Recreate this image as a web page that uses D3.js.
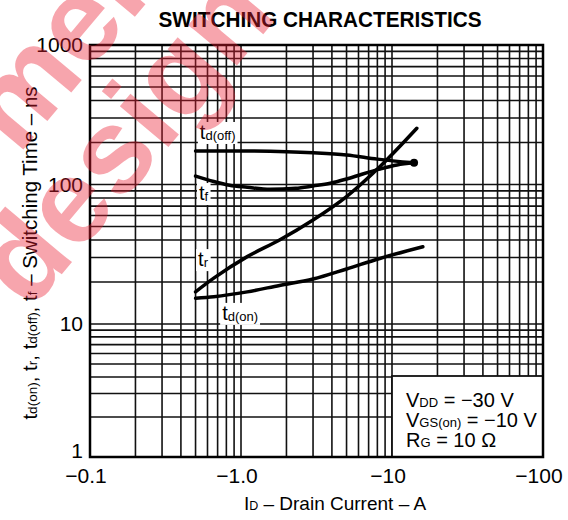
<!DOCTYPE html>
<html><head><meta charset="utf-8">
<script src="https://cdn.jsdelivr.net/npm/d3@7"></script>
<style>
body{margin:0;background:#fff}
svg{display:block}
text{font-family:"Liberation Sans",Arial,Helvetica,sans-serif;fill:#000}
</style>
</head><body>
<svg id="chart" width="568" height="520"></svg>
<script>
// ---- data ----
const currentTickValues = [-0.1, -1, -10, -100];
const currentTickLabels = ["\u22120.1", "\u22121.0", "\u221210", "\u2212100"];
const timeTickValues = [1, 10, 100, 1000];
const timeTickLabels = ["1", "10", "100", "1000"];

const tdoffCurrent = [-0.5, -1, -2, -3, -5, -8, -14];
const tdoffTime    = [174, 174, 172, 169, 163, 152, 143];

const tfCurrent = [-0.5, -0.66, -0.84, -1.1, -1.56, -2.3, -3, -3.9, -5, -6.4, -8.3, -10.8, -14];
const tfTime    = [115, 105, 98.7, 95.5, 92.4, 93.9, 97.6, 102, 109.5, 119, 129, 138, 143];

const trCurrent = [-0.5, -0.66, -1.1, -1.8, -3, -5, -8.3, -14.6];
const trTime    = [17, 21.3, 30.4, 40, 55.7, 82, 134, 253];

const tdonCurrent = [-0.5, -0.66, -1.1, -1.8, -3, -5, -8.3, -16];
const tdonTime    = [15.3, 15.7, 17, 18.9, 21, 24.8, 29.5, 35.8];

const endDotCurrent = [-14];
const endDotTime = [143];

const curveLabelMain = ["t", "t", "t", "t"];
const curveLabelSub  = ["d(off)", "f", "r", "d(on)"];
const curveLabelCurrent = [-0.534, -0.527, -0.52, -0.75];
const curveLabelTime    = [212, 77.4, 26, 10.7];

const conditionMain = ["V", "V", "R"];
const conditionSub  = ["DD", "GS(on)", "G"];
const conditionRest = [" = \u221230 V", " = \u221210 V", " = 10 \u03A9"];

// ---- scales ----
const svg = d3.select("#chart");
const x = d3.scaleLog().domain([-0.1, -100]).range([90, 543]);
const y = d3.scaleLog().domain([1, 10, 1000]).range([457, 324, 45]);
const X0 = x(-0.1), X1 = x(-100), Y0 = y(1), Y1 = y(1000);

// ---- grid ----
const grid = svg.append("g").attr("stroke", "#111").attr("stroke-width", 1.6);
grid.selectAll("line.v").data(x.ticks()).join("line")
  .attr("x1", d => x(d)).attr("x2", d => x(d)).attr("y1", Y1).attr("y2", Y0);
grid.selectAll("line.h").data(y.ticks()).join("line")
  .attr("y1", d => y(d)).attr("y2", d => y(d)).attr("x1", X0).attr("x2", X1);

// ---- condition box ----
const boxTop = 376;
svg.append("rect").attr("x", x(-10)).attr("y", boxTop)
  .attr("width", X1 - x(-10)).attr("height", Y0 - boxTop)
  .attr("fill", "#fff").attr("stroke", "#111").attr("stroke-width", 1.8);
const cond = svg.append("g");
conditionMain.forEach((m, i) => {
  const t = cond.append("text").attr("x", x(-10) + 14).attr("y", 407 + i * 20)
    .attr("font-size", 20);
  t.append("tspan").text(m);
  t.append("tspan").attr("font-size", 13).text(conditionSub[i]);
  t.append("tspan").text(conditionRest[i]);
});

// ---- frame ----
svg.append("rect").attr("x", X0).attr("y", Y1).attr("width", X1 - X0).attr("height", Y0 - Y1)
  .attr("fill", "none").attr("stroke", "#000").attr("stroke-width", 2.5);

// ---- curve labels (with white knockout) ----
const labels = svg.append("g");
curveLabelMain.forEach((m, i) => {
  const t = labels.append("text").attr("x", x(curveLabelCurrent[i])).attr("y", y(curveLabelTime[i]))
    .attr("font-size", 20);
  t.append("tspan").text(m);
  t.append("tspan").attr("font-size", 13).attr("dy", 1).text(curveLabelSub[i]);
  const b = t.node().getBBox();
  labels.insert("rect", () => t.node()).attr("x", b.x - 2).attr("y", b.y + 1)
    .attr("width", b.width + 4).attr("height", b.height).attr("fill", "#fff");
});

// ---- curves ----
const line = d3.line().x(d => x(d[0])).y(d => y(d[1])).curve(d3.curveMonotoneX);
const series = [
  [tdoffCurrent, tdoffTime],
  [tfCurrent, tfTime],
  [trCurrent, trTime],
  [tdonCurrent, tdonTime]
];
svg.append("g").selectAll("path").data(series).join("path")
  .attr("d", s => line(d3.zip(s[0], s[1])))
  .attr("fill", "none").attr("stroke", "#000").attr("stroke-width", 3.5)
  .attr("stroke-linecap", "round");
svg.append("g").selectAll("circle").data(d3.zip(endDotCurrent, endDotTime)).join("circle")
  .attr("cx", d => x(d[0])).attr("cy", d => y(d[1])).attr("r", 4).attr("fill", "#000");

// ---- tick labels ----
svg.append("g").selectAll("text").data(timeTickValues).join("text")
  .attr("x", 83).attr("y", (d, i) => i === 0 ? y(d) + 1 : y(d) + 7)
  .attr("text-anchor", "end").attr("font-size", 21)
  .text((d, i) => timeTickLabels[i]);
svg.append("g").selectAll("text").data(currentTickValues).join("text")
  .attr("x", d => x(d) - 4).attr("y", 483)
  .attr("text-anchor", "middle").attr("font-size", 21)
  .text((d, i) => currentTickLabels[i]);

// ---- titles ----
svg.append("text").attr("x", 320).attr("y", 27).attr("text-anchor", "middle")
  .attr("font-size", 22).attr("font-weight", "bold")
  .attr("textLength", 323).attr("lengthAdjust", "spacingAndGlyphs")
  .text("SWITCHING CHARACTERISTICS");

const xt = svg.append("text").attr("x", 335).attr("y", 510).attr("text-anchor", "middle").attr("font-size", 19);
xt.append("tspan").text("I");
xt.append("tspan").attr("font-size", 12.5).text("D");
xt.append("tspan").text(" \u2013 Drain Current \u2013 A");

const yt = svg.append("text").attr("transform", "translate(37,253) rotate(-90)")
  .attr("text-anchor", "middle").attr("font-size", 20.5);
[["t","d(on)",", "],["t","r",", "],["t","d(off)",", "],["t","f"," \u2013 Switching Time \u2013 ns"]].forEach(p => {
  yt.append("tspan").text(p[0]);
  yt.append("tspan").attr("font-size", 13.5).text(p[1]);
  yt.append("tspan").text(p[2]);
});

// ---- watermark ----
const wm = svg.append("g").attr("font-weight", "bold").attr("font-size", 120);
wm.append("text").attr("transform", "translate(18,156) rotate(-50)")
  .style("fill", "rgb(235,30,50)").style("fill-opacity", 0.4).text("mem");
wm.append("text").attr("transform", "translate(30,312) rotate(-50)")
  .style("fill", "rgb(235,30,50)").style("fill-opacity", 0.4).text("design");
</script>
</body></html>
